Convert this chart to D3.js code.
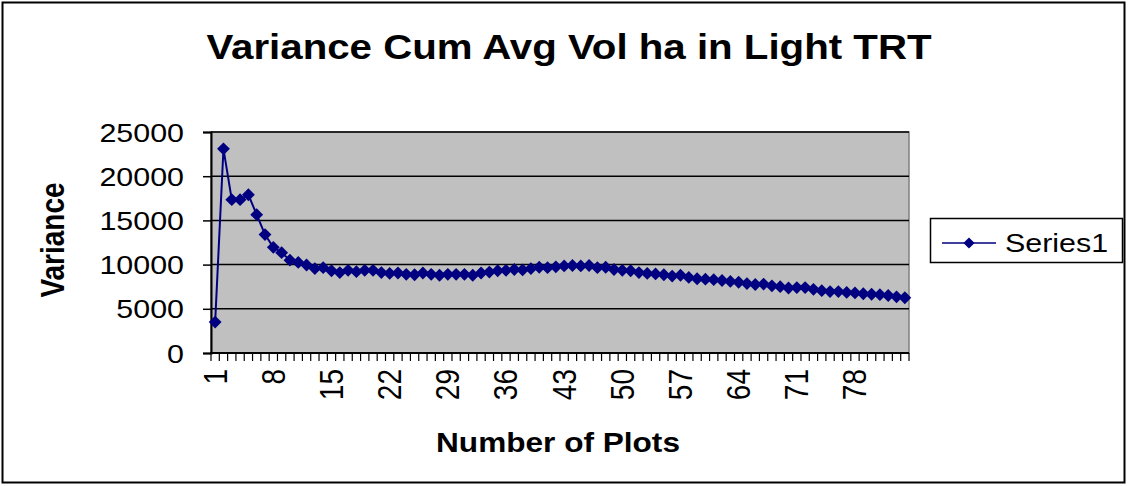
<!DOCTYPE html>
<html>
<head>
<meta charset="utf-8">
<script src="https://cdn.jsdelivr.net/npm/d3@7"></script>
<style>
  html, body { margin: 0; padding: 0; background: #fff; }
  svg { display: block; font-family: "Liberation Sans", Arial, sans-serif; }
</style>
</head>
<body>
<svg id="chart" width="1128" height="486"></svg>
<script>
// Cumulative-average variance of volume per ha, light treatment, by number of plots
const plots = d3.range(1, 85);
const variance = [
  3500, 23100, 17350, 17350, 17900, 15650, 13400, 11950, 11350, 10500,
  10250, 9950, 9550, 9650, 9300, 9100, 9350, 9200, 9350, 9350,
  9100, 9000, 9050, 8900, 8850, 9050, 8900, 8800, 8900, 8900,
  8900, 8800, 9050, 9150, 9300, 9350, 9450, 9400, 9550, 9700,
  9650, 9750, 9850, 9900, 9850, 9900, 9650, 9700, 9450, 9350,
  9300, 9100, 9000, 8950, 8850, 8700, 8800, 8550, 8400, 8350,
  8300, 8200, 8100, 8000, 7850, 7750, 7800, 7600, 7500, 7350,
  7400, 7400, 7200, 7050, 6950, 6950, 6850, 6800, 6700, 6650,
  6600, 6500, 6350, 6250
];
const yTicks = [0, 5000, 10000, 15000, 20000, 25000];
const xLabelEvery = 7;
const seriesName = "Series1";
const titleText = "Variance Cum Avg Vol ha in Light TRT";
const xTitle = "Number of Plots";
const yTitle = "Variance";

const svg = d3.select("#chart");
const sx = 1.17;               // horizontal stretch of the lettering
const navy = "#000080";

const plot = { left: 211, right: 909, top: 132, bottom: 353 };

const x = d3.scaleBand().domain(plots).range([plot.left, plot.right]).paddingInner(0).paddingOuter(0);
const y = d3.scaleLinear().domain([0, 25000]).range([plot.bottom, plot.top]);

// outer frame
svg.append("rect")
  .attr("x", 2.5).attr("y", 2.5).attr("width", 1122).attr("height", 480)
  .attr("fill", "#fff").attr("stroke", "#000").attr("stroke-width", 2);

// title
svg.append("text")
  .attr("transform", `translate(569,59) scale(1.15,1)`)
  .attr("text-anchor", "middle")
  .attr("font-size", 35).attr("font-weight", "bold")
  .text(titleText);

// plot background
svg.append("rect")
  .attr("x", plot.left).attr("y", plot.top)
  .attr("width", plot.right - plot.left).attr("height", plot.bottom - plot.top)
  .attr("fill", "#c0c0c0").attr("stroke", "#808080").attr("stroke-width", 1.5);

// gridlines
svg.append("g").selectAll("line")
  .data(yTicks.filter(d => d > 0))
  .join("line")
  .attr("x1", plot.left).attr("x2", plot.right)
  .attr("y1", d => y(d)).attr("y2", d => y(d))
  .attr("stroke", "#000").attr("stroke-width", 1.5);

// y axis
const yAxis = svg.append("g")
  .attr("transform", `translate(${plot.left},0)`)
  .call(d3.axisLeft(y).tickValues(yTicks).tickSize(8).tickPadding(0).tickFormat(d3.format("d")));
yAxis.select(".domain").attr("stroke", "#000").attr("stroke-width", 2);
yAxis.selectAll(".tick line").attr("stroke", "#000").attr("stroke-width", 1.5);
yAxis.selectAll(".tick text")
  .attr("x", null).attr("dy", null)
  .attr("text-anchor", "end")
  .attr("font-size", 26).attr("fill", "#000")
  .attr("font-family", "'Liberation Sans', Arial, sans-serif")
  .attr("transform", `translate(-27,9) scale(${sx},1)`);

// x axis: ticks on category boundaries
const xAxisG = svg.append("g");
xAxisG.append("line")
  .attr("x1", plot.left - 1).attr("x2", plot.right)
  .attr("y1", plot.bottom).attr("y2", plot.bottom)
  .attr("stroke", "#000").attr("stroke-width", 2);
const boundaries = plots.map(d => x(d)).concat([plot.right]);
xAxisG.selectAll("line.tk")
  .data(boundaries)
  .join("line").attr("class", "tk")
  .attr("x1", d => d).attr("x2", d => d)
  .attr("y1", plot.bottom).attr("y2", plot.bottom + 8)
  .attr("stroke", "#000").attr("stroke-width", 1.2);
xAxisG.selectAll("text")
  .data(plots.filter((d, i) => i % xLabelEvery === 0))
  .join("text")
  .attr("transform", d => `translate(${x(d) + x.bandwidth() / 2},369) scale(${sx},1) rotate(-90)`)
  .attr("text-anchor", "end")
  .attr("dy", "0.35em")
  .attr("font-size", 28)
  .text(d => d);

// axis titles
svg.append("text")
  .attr("transform", `translate(558,452) scale(${sx},1)`)
  .attr("text-anchor", "middle")
  .attr("font-size", 27).attr("font-weight", "bold")
  .text(xTitle);
svg.append("text")
  .attr("transform", `translate(64,240) scale(${sx},1) rotate(-90)`)
  .attr("text-anchor", "middle")
  .attr("font-size", 28).attr("font-weight", "bold")
  .text(yTitle);

// series line + diamond markers
const cx = d => x(d) + x.bandwidth() / 2;
const pts = plots.map((p, i) => [cx(p), y(variance[i])]);
svg.append("path")
  .attr("d", d3.line()(pts))
  .attr("fill", "none").attr("stroke", navy).attr("stroke-width", 2);
const diamond = d3.symbol().type(d3.symbolDiamond2).size(105);
svg.append("g").selectAll("path")
  .data(pts)
  .join("path")
  .attr("transform", d => `translate(${d[0]},${d[1]})`)
  .attr("d", diamond)
  .attr("fill", navy);

// legend
const lg = svg.append("g");
lg.append("rect")
  .attr("x", 930.5).attr("y", 218.5).attr("width", 192).attr("height", 44)
  .attr("fill", "#fff").attr("stroke", "#000").attr("stroke-width", 1.5);
lg.append("line")
  .attr("x1", 942).attr("x2", 996).attr("y1", 243).attr("y2", 243)
  .attr("stroke", navy).attr("stroke-width", 1.5);
lg.append("path")
  .attr("transform", "translate(969,243)")
  .attr("d", d3.symbol().type(d3.symbolDiamond2).size(80))
  .attr("fill", navy);
lg.append("text")
  .attr("transform", `translate(1005,252) scale(${sx},1)`)
  .attr("font-size", 26)
  .text(seriesName);
</script>
</body>
</html>
